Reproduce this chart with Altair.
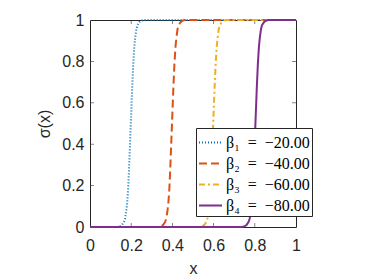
import altair as alt
import pandas as pd

# ---- data ----
series_names = ["β₁\u2002=\u2002−20.00", "β₂\u2002=\u2002−40.00",
                "β₃\u2002=\u2002−60.00", "β₄\u2002=\u2002−80.00"]

y_vals = [0, 0, 0.003, 0.01, 0.025, 0.04, 0.07, 0.11, 0.18, 0.29, 0.42,
          0.55, 0.68, 0.79, 0.87, 0.92, 0.955, 0.975, 0.99, 0.997, 1, 1]

x_b1 = [0, 0.13, 0.145, 0.155, 0.165, 0.17, 0.175, 0.18, 0.185, 0.19, 0.195,
        0.2, 0.205, 0.21, 0.215, 0.22, 0.225, 0.23, 0.24, 0.25, 0.26, 1]
x_b2 = [0, 0.33, 0.345, 0.355, 0.365, 0.37, 0.375, 0.38, 0.385, 0.39, 0.395,
        0.4, 0.405, 0.41, 0.415, 0.42, 0.425, 0.43, 0.44, 0.45, 0.46, 1]
x_b3 = [0, 0.53, 0.545, 0.555, 0.565, 0.57, 0.575, 0.58, 0.585, 0.59, 0.595,
        0.6, 0.605, 0.61, 0.615, 0.62, 0.625, 0.63, 0.64, 0.65, 0.66, 1]
x_b4 = [0, 0.735, 0.75, 0.76, 0.77, 0.775, 0.78, 0.785, 0.79, 0.795, 0.8,
        0.805, 0.81, 0.815, 0.82, 0.825, 0.83, 0.835, 0.845, 0.855, 0.865, 1]

x_ticks = [0.2, 0.4, 0.6, 0.8]
y_ticks = [0.2, 0.4, 0.6, 0.8]

colors = ["#0072BD", "#D95319", "#EDB120", "#7E2F8E"]
dashes = [[1, 2], [8, 4], [6, 3, 2, 3], [1, 0]]

rows = []
for name, xs in zip(series_names, [x_b1, x_b2, x_b3, x_b4]):
    for xv, yv in zip(xs, y_vals):
        rows.append({"x": xv, "y": yv, "series": name})
df = pd.DataFrame(rows)

xscale = alt.Scale(domain=[0, 1], nice=False, zero=False)
yscale = alt.Scale(domain=[0, 1], nice=False, zero=False)

ink = "#262626"

lines = alt.Chart(df).mark_line(strokeWidth=2, clip=False).encode(
    x=alt.X("x:Q", scale=xscale,
            axis=alt.Axis(title="x", values=[0, 0.2, 0.4, 0.6, 0.8, 1],
                          format="~g", ticks=False, domain=False, grid=False,
                          labelFlush=False, labelPadding=10, titlePadding=7)),
    y=alt.Y("y:Q", scale=yscale,
            axis=alt.Axis(title="σ(x)", values=[0, 0.2, 0.4, 0.6, 0.8, 1],
                          format="~g", ticks=False, domain=False, grid=False,
                          labelFlush=False, labelPadding=6, titlePadding=9)),
    color=alt.Color("series:N",
                    scale=alt.Scale(domain=series_names, range=colors),
                    legend=alt.Legend(title=None, orient="none",
                                      legendX=106, legendY=108, zindex=1)),
    strokeDash=alt.StrokeDash("series:N",
                              scale=alt.Scale(domain=series_names, range=dashes)),
)

tdf_x = pd.DataFrame({"t": x_ticks})
tdf_y = pd.DataFrame({"t": y_ticks})

tick_bottom = alt.Chart(tdf_x).mark_tick(orient="vertical", size=4, yOffset=-2,
                                         thickness=0.8, color=ink).encode(
    x=alt.X("t:Q", scale=xscale), y=alt.datum(0))
tick_top = alt.Chart(tdf_x).mark_tick(orient="vertical", size=4, yOffset=2,
                                      thickness=0.8, color=ink).encode(
    x=alt.X("t:Q", scale=xscale), y=alt.datum(1))
tick_left = alt.Chart(tdf_y).mark_tick(orient="horizontal", size=4, xOffset=2,
                                       thickness=0.8, color=ink).encode(
    y=alt.Y("t:Q", scale=yscale), x=alt.datum(0))
tick_right = alt.Chart(tdf_y).mark_tick(orient="horizontal", size=4, xOffset=-2,
                                        thickness=0.8, color=ink).encode(
    y=alt.Y("t:Q", scale=yscale), x=alt.datum(1))

chart = alt.layer(tick_bottom, tick_top, tick_left, tick_right, lines).properties(
    width=206, height=207,
    autosize=alt.AutoSizeParams(type="none"),
    padding={"left": 82, "top": 12, "right": 40, "bottom": 52},
).configure_view(
    stroke=ink, strokeWidth=1
).configure_axis(
    labelFont="Liberation Sans", labelFontSize=16, labelColor=ink,
    titleFont="Liberation Sans", titleFontSize=16, titleColor=ink,
    titleFontWeight="normal",
).configure_legend(
    symbolType="stroke", symbolSize=529, symbolStrokeWidth=2,
    labelFont="Liberation Serif", labelFontSize=16, labelColor="black",
    labelOffset=3, padding=2, rowPadding=-3,
    strokeColor=ink, fillColor="white", cornerRadius=0,
)

chart.save("out.html", embed_options={"renderer": "svg", "actions": False})
